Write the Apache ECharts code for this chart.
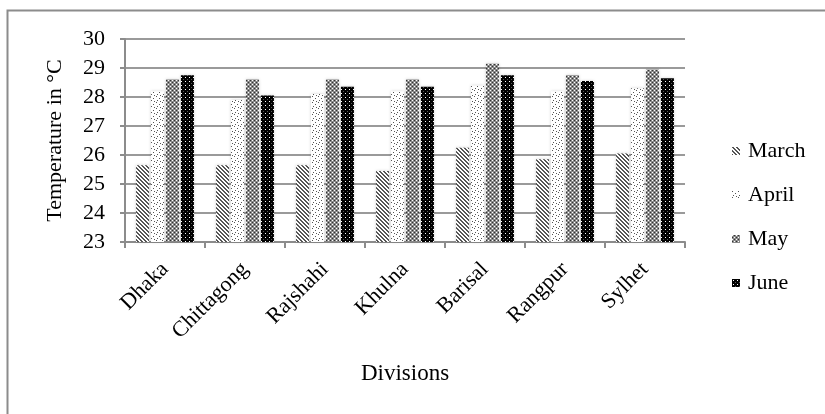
<!DOCTYPE html>
<html>
<head>
<meta charset="utf-8">
<script src="https://cdn.jsdelivr.net/npm/echarts@6/dist/echarts.min.js"></script>
<style>
  html, body { margin: 0; padding: 0; background: #fff; }
  #chart { width: 825px; height: 414px; }
</style>
</head>
<body>
<div id="chart"></div>
<script>
// Mean monthly temperature (°C) by division
const divisions = ['Dhaka', 'Chittagong', 'Rajshahi', 'Khulna', 'Barisal', 'Rangpur', 'Sylhet'];
const months = ['March', 'April', 'May', 'June'];
const march = [25.65, 25.65, 25.65, 25.45, 26.25, 25.85, 26.05];
const april = [28.2, 27.9, 28.1, 28.2, 28.4, 28.2, 28.3];
const may   = [28.6, 28.6, 28.6, 28.6, 29.15, 28.75, 28.95];
const june  = [28.75, 28.05, 28.35, 28.35, 28.75, 28.55, 28.65];
const yTicks = [23, 24, 25, 26, 27, 28, 29, 30];

// Small canvas tiles used as monochrome fill patterns
function tile(size, draw) {
  const c = document.createElement('canvas');
  c.width = size; c.height = size;
  const g = c.getContext('2d');
  draw(g, size);
  return c;
}
const patMarch = tile(4, (g, s) => {
  g.fillStyle = '#fff'; g.fillRect(0, 0, s, s);
  g.fillStyle = '#555';
  for (let i = 0; i < s; i++) { g.fillRect(i, i, 1, 1); g.fillRect((i + 1) % s, i, 1, 1); }
});
const patApril = tile(6, (g, s) => {
  g.fillStyle = '#fff'; g.fillRect(0, 0, s, s);
  g.fillStyle = '#555';
  g.fillRect(0, 0, 1, 1); g.fillRect(3, 2, 1, 1); g.fillRect(1, 4, 1, 1); g.fillRect(4, 5, 1, 1);
});
const patMay = tile(4, (g, s) => {
  g.fillStyle = '#8a8a8a'; g.fillRect(0, 0, s, s);
  g.fillStyle = '#fff';
  g.fillRect(0, 0, 1, 1); g.fillRect(2, 2, 1, 1);
  g.fillStyle = '#333';
  g.fillRect(2, 0, 1, 1); g.fillRect(0, 2, 1, 1);
});
const patJune = tile(4, (g, s) => {
  g.fillStyle = '#000'; g.fillRect(0, 0, s, s);
  g.fillStyle = '#fff';
  g.fillRect(1, 1, 1, 1);
  g.fillStyle = '#555';
  g.fillRect(3, 3, 1, 1);
});
const patterns = [patMarch, patApril, patMay, patJune];
const values = [march, april, may, june];

const font = 'Liberation Serif';
const chart = echarts.init(document.getElementById('chart'), null, { renderer: 'canvas' });

chart.setOption({
  animation: false,
  backgroundColor: '#fff',
  textStyle: { fontFamily: font, color: '#000' },
  graphic: [{
    type: 'rect',
    shape: { x: 7.5, y: 10.5, width: 830, height: 420 },
    style: { fill: 'none', stroke: '#8c8c8c', lineWidth: 2 },
    silent: true
  }],
  grid: { left: 125, right: 140, top: 39, bottom: 172, containLabel: false },
  legend: {
    orient: 'vertical',
    left: 732,
    top: 140,
    padding: 0,
    itemWidth: 8,
    itemHeight: 8,
    itemGap: 22,
    icon: 'rect',
    textStyle: { fontFamily: font, fontSize: 22, lineHeight: 22, color: '#000', padding: [0, 0, 0, 3] },
    data: months
  },
  xAxis: {
    type: 'category',
    data: divisions,
    name: 'Divisions',
    nameLocation: 'middle',
    nameGap: 120,
    nameTextStyle: { fontFamily: font, fontSize: 23, color: '#000' },
    axisLine: { lineStyle: { color: '#8c8c8c', width: 2 } },
    axisTick: { show: true, length: 6, lineStyle: { color: '#8c8c8c', width: 2 } },
    axisLabel: { rotate: 45, fontFamily: font, fontSize: 22, color: '#000', margin: 24 }
  },
  yAxis: {
    type: 'value',
    min: yTicks[0],
    max: yTicks[yTicks.length - 1],
    interval: 1,
    name: 'Temperature in °C',
    nameLocation: 'middle',
    nameGap: 59,
    nameRotate: 90,
    nameTextStyle: { fontFamily: font, fontSize: 22, color: '#000' },
    axisLine: { show: true, lineStyle: { color: '#8c8c8c', width: 2 } },
    axisTick: { show: true, length: 5, lineStyle: { color: '#8c8c8c', width: 2 } },
    splitLine: { show: true, lineStyle: { color: '#9a9a9a', width: 2 } },
    axisLabel: { fontFamily: font, fontSize: 22, color: '#000', margin: 20 }
  },
  series: months.map((m, i) => ({
    name: m,
    type: 'bar',
    data: values[i],
    barWidth: 13,
    barGap: '15%',
    itemStyle: {
      color: { image: patterns[i], repeat: 'repeat' },
      shadowColor: 'rgba(0,0,0,0.18)',
      shadowBlur: 3
    }
  }))
});
</script>
</body>
</html>
